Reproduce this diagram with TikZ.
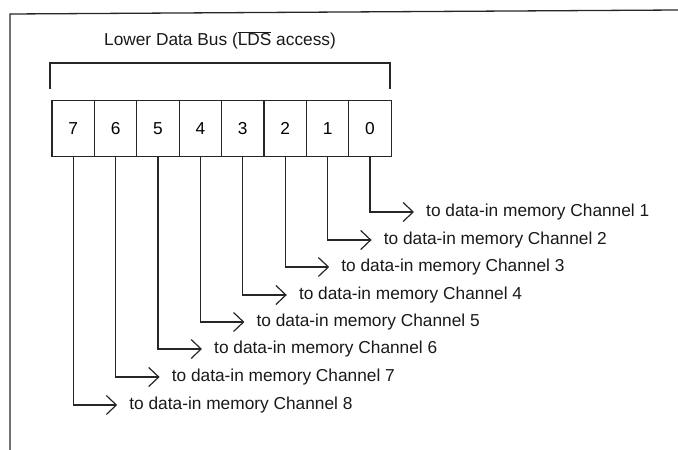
\documentclass[tikz,border=0pt]{standalone}
\usepackage{fontspec}
\setmainfont{Liberation Sans}
\usetikzlibrary{arrows.meta,calc}
\tikzset{
  frame/.style={line width=1.3pt, draw=black!85},
  bitbox/.style={draw=black!85, line width=1.2pt, minimum width=42.4pt, minimum height=56pt, inner sep=0pt, font=\fontsize{17.3}{20}\selectfont},
  lbl/.style={anchor=west, inner sep=0pt, font=\fontsize{17.3}{20}\selectfont, text=black!90},
  conn/.style={line width=1.2pt, draw=black!85, -{Straight Barb[length=10pt,width=19pt,line width=1.2pt]}},
}
\begin{document}
\begin{tikzpicture}[x=1pt,y=-1pt]
\useasboundingbox (0,0) rectangle (678,450);
% outer frame
\draw[frame] (10,450) -- (10,14) -- (678,10);
% title
\node[lbl, anchor=center] (title) at (220,40) {Lower Data Bus ($\overline{\mbox{LDS}}$ access)};
% bracket
\draw[frame, line width=1.2pt] (50,89) -- (50,63) -- (390,63) -- (390,89);
% bit boxes
\foreach \i in {0,...,7} {
  \pgfmathsetmacro{\cx}{52+42.4*(7-\i)+21.2}
  \node[bitbox] (b\i) at (\cx,128.5) {\i};
}
% labels and connectors
\foreach \i/\yy [evaluate=\i as \n using int(\i+1)] in {0/212,1/240,2/267,3/295,4/322,5/349,6/377,7/405} {
  \path let \p1=(b\i.south) in coordinate (t\i) at (\x1+56,\yy);
  \node[lbl] (l\i) at (t\i) {to data-in memory Channel \n};
  \draw[conn] (b\i.south) |- ([xshift=-12pt]l\i.west);
}
\end{tikzpicture}
\end{document}
